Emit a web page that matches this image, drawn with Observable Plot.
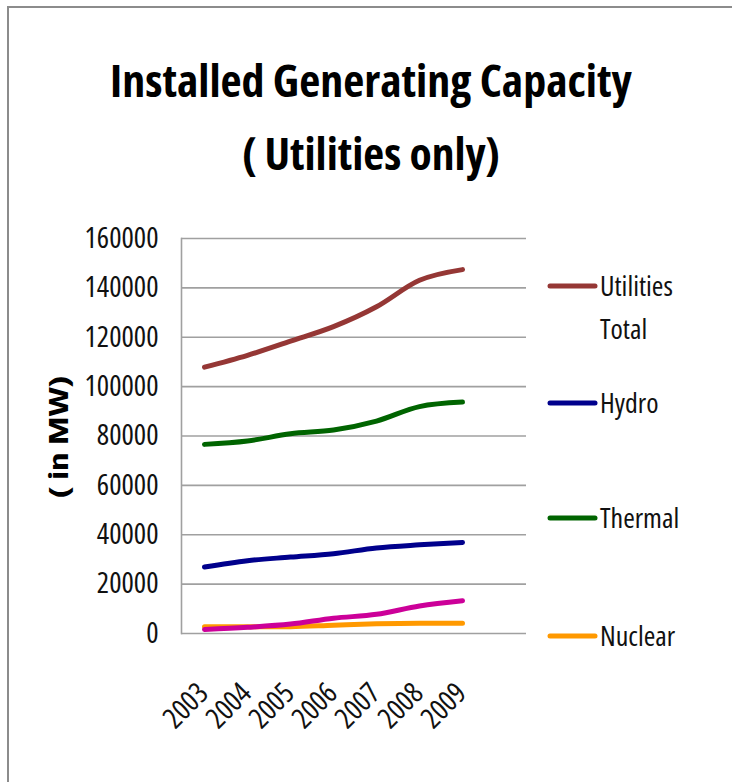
<!DOCTYPE html>
<html><head><meta charset="utf-8">
<script src="https://cdn.jsdelivr.net/npm/d3@7"></script>
<script src="https://cdn.jsdelivr.net/npm/@observablehq/plot@0.6"></script>
<style>
body{margin:0;background:#fff;}
#wrap{position:relative;width:732px;height:782px;overflow:hidden;background:#fff;}
#border{position:absolute;left:7px;top:6px;width:760px;height:800px;border-left:2px solid #8c8c8c;border-top:2px solid #8c8c8c;}
#plot, #overlay{position:absolute;left:0;top:0;}
#overlay{pointer-events:none;}
svg text{font-stretch:condensed;}
</style>
</head><body>
<div id="wrap"><div id="border"></div><div id="plot"></div><svg id="overlay" width="732" height="782"></svg></div>
<script>
const years = ["2003","2004","2005","2006","2007","2008","2009"];
const utilitiesTotal = [107877, 112684, 118419, 124287, 132329, 143061, 147403];
const hydro = [26910, 29507, 30942, 32326, 34654, 35909, 36878];
const thermal = [76607, 77969, 80902, 82411, 86015, 91907, 93725];
const nuclear = [2720, 2720, 2770, 3360, 3900, 4120, 4120];
const res = [1628, 2488, 3811, 6191, 7760, 11125, 13242];
const seriesNames = ["Utilities Total","Hydro","Thermal","Nuclear","RES"];
const seriesColors = ["#953735","#00008c","#006400","#ff9900","#cc0099"];
const seriesValues = [utilitiesTotal, hydro, thermal, nuclear, res];
const yTicks = [0,20000,40000,60000,80000,100000,120000,140000,160000];
const legendLabels = [["Utilities","Total"],["Hydro"],["Thermal"],["Nuclear"]];
const titleLines = ["Installed Generating Capacity","( Utilities only)"];
const yLabel = "( in MW)";

const FONT = '"Open Sans",sans-serif';

const data = seriesNames.flatMap((name,i)=>years.map((yr,j)=>({series:name, year:yr, value:seriesValues[i][j]})));

const chart = Plot.plot({
  width:732, height:782,
  marginLeft:181, marginRight:206, marginTop:238, marginBottom:149,
  style:{fontFamily:FONT, fontStretch:"condensed", fontSize:"29px", color:"#000", background:"transparent", overflow:"visible"},
  x:{type:"point", domain:years, range:[204,462], padding:0, axis:null},
  y:{domain:[0,160000], axis:null},
  color:{domain:seriesNames, range:seriesColors},
  marks:[
    Plot.ruleY(yTicks,{stroke:"#a0a0a0", strokeWidth:1.6}),
    Plot.frame({anchor:"left", stroke:"#a0a0a0", strokeWidth:1.6}),
    Plot.axisY({ticks:yTicks, tickSize:0, tickPadding:23, tickFormat:d=>String(d), label:null, fontSize:29, fill:"#111"}),
    Plot.text(years,{x:d=>d, frameAnchor:"bottom", rotate:-45, textAnchor:"end", lineAnchor:"middle", dy:55, dx:-1, fontSize:29, fill:"#111"}),
    Plot.line(data,{x:"year", y:"value", stroke:"series", z:"series", strokeWidth:5, curve:"monotone-x", strokeLinecap:"round", strokeLinejoin:"round"})
  ]
});
document.getElementById("plot").appendChild(chart);

const ov = d3.select("#overlay");
const tY = [97,170];
const tW = [522,258];
titleLines.forEach((t,i)=>{
  ov.append("text").attr("x",371).attr("y",tY[i]).attr("text-anchor","middle")
    .attr("font-family",FONT).attr("font-weight","bold").attr("font-size",45)
    .attr("textLength",tW[i]).attr("lengthAdjust","spacingAndGlyphs").attr("fill","#000").text(t);
});
ov.append("text").attr("transform","translate(58,437) rotate(-90)").attr("text-anchor","middle")
  .attr("dominant-baseline","central").attr("font-family",FONT)
  .attr("font-weight","bold").attr("font-size",26).attr("textLength",123).attr("lengthAdjust","spacingAndGlyphs")
  .attr("fill","#000").text(yLabel);

const legY = [286,403,518,636];
legendLabels.forEach((lines,i)=>{
  ov.append("line").attr("x1",550).attr("x2",595).attr("y1",legY[i]).attr("y2",legY[i])
    .attr("stroke",seriesColors[i]).attr("stroke-width",5).attr("stroke-linecap","round");
  lines.forEach((l,k)=>{
    ov.append("text").attr("x",600).attr("y",legY[i]+10+k*43).attr("font-family",FONT)
      .attr("font-size",28).attr("fill","#111").text(l);
  });
});
</script>
</body></html>
